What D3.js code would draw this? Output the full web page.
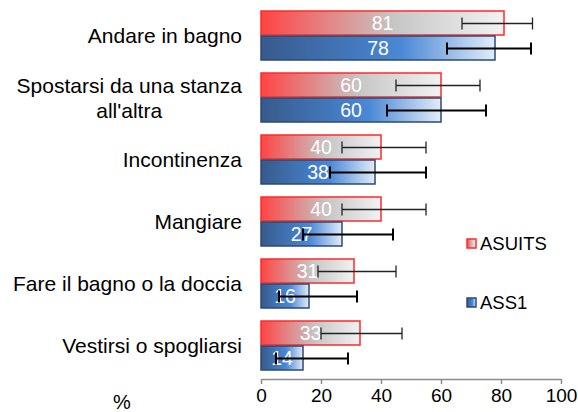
<!DOCTYPE html>
<html>
<head>
<meta charset="utf-8">
<script src="https://cdn.jsdelivr.net/npm/d3@7"></script>
<style>
  body { margin: 0; background: #fff; }
  text { font-family: "Liberation Sans", Arial, sans-serif; }
</style>
</head>
<body>
<svg id="chart" width="578" height="412"></svg>
<script>
// categories (top to bottom), each may hold a line break
var categories = ["Andare in bagno", "Spostarsi da una stanza\nall'altra", "Incontinenza",
    "Mangiare", "Fare il bagno o la doccia", "Vestirsi o spogliarsi"];
var seriesNames = ["ASUITS", "ASS1"];
var asuits = [81, 60, 40, 40, 31, 33];
var asuitsLow = [67, 45, 27, 27, 19, 20];
var asuitsHigh = [90.5, 73, 55, 55, 45, 47];
var ass1 = [78, 60, 38, 27, 16, 14];
var ass1Low = [62, 42, 23, 14, 6, 5];
var ass1High = [90, 75, 55, 44, 32, 29];
var xTicks = [0, 20, 40, 60, 80, 100];

var svg = d3.select("#chart");

var xScale = d3.scaleLinear()
    .domain([0, 100])
    .range([261, 561]);

var yScale = d3.scaleBand()
    .domain(categories)
    .range([5, 377])
    .paddingInner(12 / 62)
    .paddingOuter(6 / 62);

var subScale = d3.scaleBand()
    .domain(seriesNames)
    .range([0, yScale.bandwidth()]);

// gradients
var defs = svg.append("defs");
var redGrad = defs.append("linearGradient").attr("id", "gradRed");
redGrad.append("stop").attr("offset", "0%").attr("stop-color", "#ff4444");
redGrad.append("stop").attr("offset", "55%").attr("stop-color", "#c6c6c6");
redGrad.append("stop").attr("offset", "100%").attr("stop-color", "#f2f2f2");
var blueGrad = defs.append("linearGradient").attr("id", "gradBlue");
blueGrad.append("stop").attr("offset", "0%").attr("stop-color", "#375a8c");
blueGrad.append("stop").attr("offset", "60%").attr("stop-color", "#4a88d6");
blueGrad.append("stop").attr("offset", "100%").attr("stop-color", "#e2ecf8");

var series = [
    { name: "ASUITS", values: asuits, low: asuitsLow, high: asuitsHigh,
      fill: "url(#gradRed)", stroke: "#ff2a2a", errColor: "#222", errWidth: 1.3 },
    { name: "ASS1", values: ass1, low: ass1Low, high: ass1High,
      fill: "url(#gradBlue)", stroke: "#2c4a72", errColor: "#000", errWidth: 2 }
];

// axis
var xAxis = svg.append("g")
    .attr("transform", "translate(0,379)")
    .call(d3.axisBottom(xScale).tickValues(xTicks).tickSize(5).tickSizeOuter(0));
xAxis.select(".domain").attr("stroke", "#8c8c8c").attr("stroke-width", 1.5);
xAxis.selectAll(".tick line").attr("stroke", "#8c8c8c").attr("stroke-width", 1.5);
xAxis.selectAll(".tick text")
    .attr("y", 10)
    .attr("dy", "0.71em")
    .style("font-size", "19px")
    .style("font-family", "'Liberation Sans', Arial, sans-serif")
    .attr("fill", "#000");

svg.append("text")
    .attr("x", 122)
    .attr("y", 409)
    .attr("text-anchor", "middle")
    .style("font-size", "20px")
    .text("%");

// category labels
categories.forEach(function (c) {
    var lines = c.split("\n");
    var cy = yScale(c) + yScale.bandwidth() / 2;
    var t = svg.append("text")
        .attr("text-anchor", "middle")
        .style("font-size", "21px")
        .attr("fill", "#000");
    var lh = 25;
    lines.forEach(function (l, i) {
        t.append("tspan")
            .attr("x", 0)
            .attr("y", cy + (i - (lines.length - 1) / 2) * lh)
            .attr("dy", "0.35em")
            .text(l);
    });
    // right align the whole block at x=242, lines centred on each other
    var bb = t.node().getBBox();
    t.selectAll("tspan").attr("x", 242 - bb.width / 2);
});

// bars
series.forEach(function (s) {
    var g = svg.append("g");
    g.selectAll("rect")
        .data(categories)
        .enter()
        .append("rect")
        .attr("x", xScale(0))
        .attr("y", function (d) { return yScale(d) + subScale(s.name); })
        .attr("width", function (d, i) { return xScale(s.values[i]) - xScale(0); })
        .attr("height", subScale.bandwidth() - 1)
        .attr("fill", s.fill)
        .attr("stroke", s.stroke)
        .attr("stroke-width", 1.5);

    g.selectAll("text")
        .data(categories)
        .enter()
        .append("text")
        .attr("x", function (d, i) { return xScale(s.values[i] / 2); })
        .attr("y", function (d) { return yScale(d) + subScale(s.name) + subScale.bandwidth() / 2; })
        .attr("dy", "0.35em")
        .attr("text-anchor", "middle")
        .attr("fill", "#fff")
        .style("font-size", "19.5px")
        .text(function (d, i) { return s.values[i]; });
});

// error bars on top
series.forEach(function (s) {
    var g = svg.append("g")
        .attr("stroke", s.errColor)
        .attr("stroke-width", s.errWidth);
    categories.forEach(function (c, i) {
        var cy = yScale(c) + subScale(s.name) + subScale.bandwidth() / 2;
        var x0 = xScale(s.low[i]), x1 = xScale(s.high[i]);
        g.append("line").attr("x1", x0).attr("x2", x1).attr("y1", cy).attr("y2", cy);
        g.append("line").attr("x1", x0).attr("x2", x0).attr("y1", cy - 6).attr("y2", cy + 6);
        g.append("line").attr("x1", x1).attr("x2", x1).attr("y1", cy - 6).attr("y2", cy + 6);
    });
});

// legend
var legendY = [243.5, 302.5];
series.forEach(function (s, i) {
    var lg = svg.append("g").attr("transform", "translate(467," + legendY[i] + ")");
    lg.append("rect")
        .attr("x", 0).attr("y", -4.5)
        .attr("width", 9).attr("height", 9)
        .attr("fill", s.fill)
        .attr("stroke", s.stroke)
        .attr("stroke-width", 1.5);
    lg.append("text")
        .attr("x", 13)
        .attr("dy", "0.35em")
        .style("font-size", "18.5px")
        .text(s.name);
});
</script>
</body>
</html>
